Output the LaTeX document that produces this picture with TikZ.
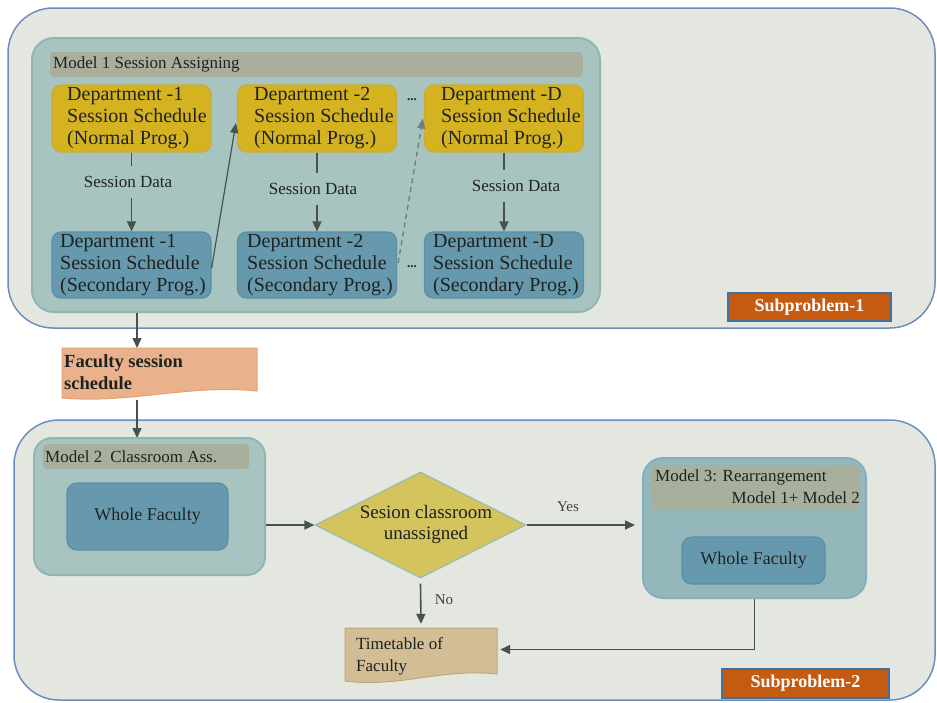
\documentclass[tikz,border=0pt]{standalone}
\usepackage{fontspec}
\setmainfont{Liberation Serif}
\usetikzlibrary{calc,shapes.geometric,arrows.meta}
\definecolor{outerfill}{HTML}{E3E7E0}
\definecolor{outerdraw}{HTML}{6A8FBF}
\definecolor{modelfill}{HTML}{A8C4C1}
\definecolor{modeldraw}{HTML}{8DB6B5}
\definecolor{barfill}{HTML}{A8AF9D}
\definecolor{yfill}{HTML}{D5B320}
\definecolor{ydraw}{HTML}{C9AB3E}
\definecolor{bfill}{HTML}{6699AD}
\definecolor{bdraw}{HTML}{5A8FA6}
\definecolor{arrowc}{HTML}{46524A}
\definecolor{dashc}{HTML}{6F7F7E}
\definecolor{subfill}{HTML}{C55A11}
\definecolor{subdraw}{HTML}{41719C}
\definecolor{fssfill}{HTML}{E9B28D}
\definecolor{fssdraw}{HTML}{E3A27A}
\definecolor{ttfill}{HTML}{D2BD95}
\definecolor{ttdraw}{HTML}{C2A67B}
\definecolor{dfill}{HTML}{D4C45E}
\definecolor{ddraw}{HTML}{9CBBAE}
\definecolor{mthreefill}{HTML}{94B7BB}
\definecolor{mthreedraw}{HTML}{84B0BE}
\definecolor{txt}{HTML}{1E2320}
\tikzset{
  outerbox/.style={draw=outerdraw, fill=outerfill, line width=1.5pt, rounded corners=45pt, inner sep=0pt},
  modelbox/.style={draw=modeldraw, fill=modelfill, line width=2pt, rounded corners=22pt, inner sep=0pt},
  titlebar/.style={fill=barfill, rounded corners=4pt, inner sep=0pt},
  ybox/.style={draw=ydraw, fill=yfill, line width=1.2pt, rounded corners=9pt, minimum width=159pt, minimum height=67pt, inner sep=0pt},
  bbox/.style={draw=bdraw, fill=bfill, line width=1.2pt, rounded corners=9pt, minimum width=159pt, minimum height=66pt, inner sep=0pt},
  depttext/.style={align=left, inner sep=0pt, font=\fontsize{20}{22}\selectfont, anchor=west},
  smalltext/.style={inner sep=0pt, font=\fontsize{17}{20}\selectfont},
  sdlabel/.style={inner xsep=2pt, inner ysep=10pt, font=\fontsize{17}{20}\selectfont},
  conn/.style={draw=arrowc, line width=1.6pt},
  arr/.style={conn, -{Triangle[length=10pt,width=9pt]}},
  subbox/.style={draw=subdraw, fill=subfill, line width=1.2pt, text=white, font=\bfseries\fontsize{18}{20}\selectfont, inner sep=0pt},
  wfbox/.style={draw=bdraw, fill=bfill, line width=1.2pt, rounded corners=10pt, inner sep=0pt, font=\fontsize{18}{20}\selectfont},
  ghost/.style={inner sep=0pt}
}
\begin{document}
\begin{tikzpicture}[x=1pt, y=-1pt, text=txt]
\useasboundingbox (0,0) rectangle (937,702);
\fill[white] (0,0) rectangle (937,702);

% ---------- Subproblem 1 ----------
\node[outerbox, minimum width=927pt, minimum height=320pt] (sp1) at (471.5,168) {};
\node[modelbox, minimum width=568pt, minimum height=274pt] (m1) at (316,175) {};
\node[titlebar, minimum width=533pt, minimum height=25pt] (bar1) at (316.5,64.5) {};
\node[smalltext, anchor=west] (t1) at (53,64.5) {Model 1 Session Assigning};

\node[ybox] (n1) at (131.5,118.5) {};
\node[ybox] (n2) at (317,118.5) {};
\node[ybox] (nD) at (504,118.5) {};
\node[bbox] (s1) at (131.5,265) {};
\node[bbox] (s2) at (317,265) {};
\node[bbox] (sD) at (504,265) {};

\node[depttext] (n1t) at (67,118.5) {Department -1\\Session Schedule\\(Normal Prog.)};
\node[depttext] (n2t) at (254,118.5) {Department -2\\Session Schedule\\(Normal Prog.)};
\node[depttext] (nDt) at (441,118.5) {Department -D\\Session Schedule\\(Normal Prog.)};
\node[depttext] (s1t) at (60,265) {Department -1\\Session Schedule\\(Secondary Prog.)};
\node[depttext] (s2t) at (247,265) {Department -2\\Session Schedule\\(Secondary Prog.)};
\node[depttext] (sDt) at (433,265) {Department -D\\Session Schedule\\(Secondary Prog.)};

\node[sdlabel] (sd1) at (128,182) {Session Data};
\node[sdlabel] (sd2) at (313,189) {Session Data};
\node[sdlabel] (sdD) at (516,186) {Session Data};

\draw[conn] (n1.south) -- (n1.south |- sd1.north);
\draw[arr] (n1.south |- sd1.south) -- (s1.north);
\draw[conn] (n2.south) -- (n2.south |- sd2.north);
\draw[arr] (n2.south |- sd2.south) -- (s2.north);
\draw[conn] (nD.south) -- (nD.south |- sdD.north);
\draw[arr] (nD.south |- sdD.south) -- (sD.north);

\draw[draw=arrowc, line width=1.2pt, -{Triangle[length=10pt,width=8pt]}] ($(s1.east)+(0,3)$) -- ($(n2.west)+(-1,4.5)$);
\draw[draw=dashc, line width=1.4pt, dash pattern=on 5pt off 4pt, -{Triangle[length=10pt,width=8pt]}] ($(s2.east)+(1,-2)$) -- ($(nD.west)+(-1,0)$);

\node[inner sep=0pt, font=\bfseries\fontsize{13}{14}\selectfont] (dots1) at (412,100) {...};
\node[inner sep=0pt, font=\bfseries\fontsize{13}{14}\selectfont] (dots2) at (412,267) {...};

\node[subbox, minimum width=163pt, minimum height=28pt] (sub1) at (809.5,307) {Subproblem-1};

% ---------- Faculty session schedule ----------
\coordinate (cx) at (137,0);
\node[ghost, anchor=north west, minimum width=195pt, minimum height=52pt] (fss) at (62,348) {};
\fill[fssfill, draw=fssdraw, line width=1pt] (62,348) -- (257,348) -- (257,391)
   .. controls (190,384) and (130,404) .. (62,398) -- cycle;
\node[anchor=west, align=left, inner sep=0pt, font=\bfseries\fontsize{18.5}{21.5}\selectfont] (fsst) at (64,372) {Faculty session\\schedule};

% ---------- Subproblem 2 ----------
\node[outerbox, minimum width=921pt, minimum height=280pt] (sp2) at (474.5,560) {};

\draw[arr] (cx |- m1.south) -- (cx |- fss.north);
\draw[arr] (cx |- fss.south) -- (137,438);

\node[modelbox, rounded corners=18pt, minimum width=231pt, minimum height=137pt] (m2) at (149.5,506.5) {};
\node[titlebar, minimum width=206pt, minimum height=25pt] (bar2) at (146,456.5) {};
\node[smalltext, anchor=west] (t2) at (45,457) {Model 2\hspace{8pt}Classroom Ass.};
\node[wfbox, minimum width=161pt, minimum height=67pt] (wf2) at (147.5,516.5) {Whole Faculty};

\node[diamond, draw=ddraw, fill=dfill, line width=1.2pt, minimum width=211pt, minimum height=106pt, inner sep=0pt] (d) at (420.5,525) {};
\node[align=center, inner sep=0pt, font=\fontsize{19}{21}\selectfont] (dt) at (426,524) {Sesion classroom\\unassigned};

\node[draw=mthreedraw, fill=mthreefill, line width=2pt, rounded corners=20pt, minimum width=223pt, minimum height=140pt, inner sep=0pt] (m3) at (754.5,528) {};
\node[titlebar, minimum width=209pt, minimum height=45pt] (bar3) at (755.5,487.5) {};
\node[smalltext, anchor=west] (t3a) at (655,477) {Model 3: Rearrangement};
\node[smalltext, anchor=east] (t3b) at (860,498) {Model 1+ Model 2};
\node[wfbox, minimum width=143pt, minimum height=47pt] (wf3) at (753.5,560.5) {Whole Faculty};

\node[ghost, minimum width=152pt, minimum height=55pt] (tt) at (421,655.5) {};
\fill[ttfill, draw=ttdraw, line width=1pt] (345,628) -- (497,628) -- (497,674)
   .. controls (440,668) and (400,688) .. (345,681) -- cycle;
\node[anchor=west, align=left, inner sep=0pt, font=\fontsize{17}{22}\selectfont] (ttt) at (356,656) {Timetable of\\Faculty};

\draw[arr] (d.west -| m2.east) -- (d.west);
\draw[arr, shorten >=7pt] (d.east) -- (d.east -| m3.west);
\node[inner sep=0pt, font=\fontsize{15}{16}\selectfont, text=black!75] (yes) at (568,507) {Yes};
\draw[arr] ($(d.south)+(0,5)$) -- ($(tt.north)+(0,-4)$);
\node[inner sep=0pt, font=\fontsize{15}{16}\selectfont, text=black!75] (no) at (444,600) {No};
\draw[arr] (m3.south) |- ($(tt.east)+(3,-6)$);

\node[subbox, minimum width=167pt, minimum height=29pt] (sub2) at (805.5,683.5) {Subproblem-2};
\end{tikzpicture}
\end{document}
